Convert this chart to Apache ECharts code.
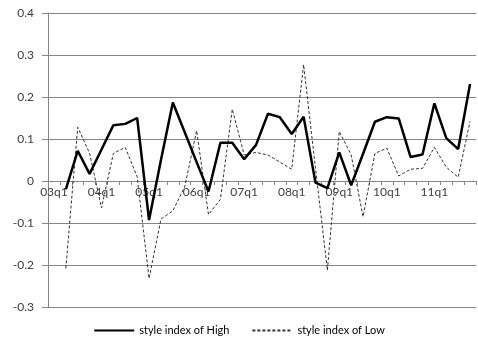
<!DOCTYPE html>
<html><head><meta charset="utf-8">
<script src="https://cdn.jsdelivr.net/npm/echarts@6/dist/echarts.min.js"></script>
<style>html,body{margin:0;padding:0;background:#fff}#c{width:478px;height:343px}</style>
</head><body><div id="c"></div>
<script>
var categories = [];
var years = ['03','04','05','06','07','08','09','10','11'];
for (var y = 0; y < years.length; y++) for (var q = 1; q <= 4; q++) categories.push(years[y] + 'q' + q);

var highValues = [null, -0.02, 0.072, 0.017, 0.075, 0.133, 0.136, 0.15, -0.093, 0.05, 0.187, 0.116, 0.045, -0.025, 0.091, 0.091, 0.052, 0.086, 0.16, 0.152, 0.112, 0.153, -0.004, -0.017, 0.068, -0.01, 0.065, 0.141, 0.152, 0.149, 0.057, 0.063, 0.185, 0.102, 0.076, 0.231];
var lowValues = [null, -0.208, 0.128, 0.066, -0.064, 0.066, 0.08, 0.01, -0.232, -0.091, -0.071, -0.014, 0.12, -0.08, -0.044, 0.171, 0.062, 0.068, 0.062, 0.045, 0.028, 0.277, 0.03, -0.212, 0.118, 0.062, -0.085, 0.066, 0.078, 0.012, 0.028, 0.03, 0.08, 0.033, 0.009, 0.142];
var yTicks = [-0.3, -0.2, -0.1, 0, 0.1, 0.2, 0.3, 0.4];

var chart = echarts.init(document.getElementById('c'), null, {renderer: 'canvas'});
chart.setOption({
  animation: false,
  backgroundColor: '#fff',
  textStyle: {fontFamily: 'Lato'},
  grid: {left: 48, right: 2, top: 13, bottom: 36},
  legend: {
    bottom: 2, left: 'center',
    itemWidth: 40, itemHeight: 10, itemGap: 22,
    itemStyle: {opacity: 0},
    textStyle: {fontSize: 11, color: '#000', fontFamily: 'Lato'},
    data: ['style index of High', 'style index of Low']
  },
  xAxis: {
    type: 'category', data: categories, boundaryGap: true, position: 'bottom', offset: 0,
    axisLine: {onZero: false, lineStyle: {color: '#868686', width: 1}},
    axisTick: {show: true, interval: 0, length: 4, inside: false, lineStyle: {color: '#868686'}},
    axisLabel: {interval: 3, color: '#404040', fontSize: 12, margin: 5, fontFamily: 'Lato'},
    splitLine: {show: false}
  },
  yAxis: {
    type: 'value', min: yTicks[0], max: yTicks[yTicks.length - 1], interval: 0.1,
    axisLine: {show: true, lineStyle: {color: '#868686'}},
    axisTick: {show: true, length: 6, lineStyle: {color: '#868686'}},
    axisLabel: {color: '#404040', fontSize: 12, margin: 14, fontFamily: 'Lato',
      formatter: function (v) { return String(Math.round(v * 10) / 10); }},
    splitLine: {show: true, lineStyle: {color: '#868686', width: 1}}
  },
  series: [
    {name: 'style index of High', type: 'line', data: highValues, symbol: 'none', showSymbol: false, z: 5,
      lineStyle: {color: '#000', width: 2.5}, itemStyle: {color: '#000'}},
    {name: 'style index of Low', type: 'line', data: lowValues, symbol: 'none', showSymbol: false, z: 4,
      lineStyle: {color: '#333', width: 1, type: [3, 2]}, itemStyle: {color: '#333'}}
  ]
});
// move the category axis onto the value 0 line using the library's own scale
var yZero = chart.convertToPixel({yAxisIndex: 0}, 0);
var yMin = chart.convertToPixel({yAxisIndex: 0}, yTicks[0]);
chart.setOption({xAxis: {offset: -(yMin - yZero)}});
</script></body></html>
